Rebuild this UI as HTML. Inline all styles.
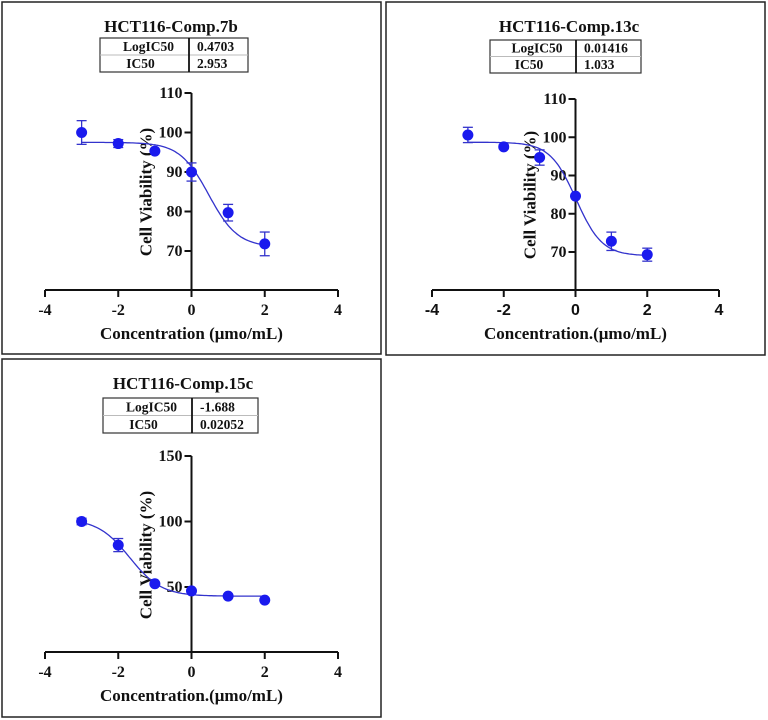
<!DOCTYPE html>
<html><head><meta charset="utf-8"><style>
html,body{margin:0;padding:0;background:#fff;width:768px;height:720px;overflow:hidden}
svg{display:block}
text{font-family:"Liberation Serif",serif;font-weight:bold;fill:#111}
</style></head><body>
<svg id="s" width="768" height="720" viewBox="0 0 768 720"></svg>
<script>
const xTicks=[-4,-2,0,2,4];
const p1Doses=[-3,-2,-1,0,1,2];
const p1Vals=[100,97.2,95.3,90,79.7,71.8];
const p1Err=[3,1,0,2.3,2.1,3];
const p1Fit=[97.5,71,0.4703,1.1];
const p1YTicks=[70,80,90,100,110];
const p2Doses=[-3,-2,-1,0,1,2];
const p2Vals=[100.6,97.5,94.7,84.6,72.8,69.3];
const p2Err=[2,0.5,2,0,2.4,1.7];
const p2Fit=[98.7,69,0.01416,1.2];
const p2YTicks=[70,80,90,100,110];
const p3Doses=[-3,-2,-1,0,1,2];
const p3Vals=[100,82,52.5,47,43,40];
const p3Err=[2.5,5,0,0,0,0];
const p3Fit=[102,43,-1.688,1.0];
const p3YTicks=[50,100,150];
const NS="http://www.w3.org/2000/svg";
const svg=document.getElementById('s');
function mk(tag,attrs,parent,txt){const e=document.createElementNS(NS,tag);for(const k in attrs)e.setAttribute(k,attrs[k]);if(txt!==undefined)e.textContent=txt;(parent||svg).appendChild(e);return e;}
function panel(cfg){
  const g=mk('g',{});
  
  
  const b=mk('rect',{x:cfg.box[0],y:cfg.box[1],width:cfg.box[2],height:cfg.box[3],fill:'none',stroke:'#222','stroke-width':1.5},g);
  
  
  const t=mk('text',{x:cfg.tx,y:cfg.ty,'text-anchor':'middle','font-size':17},g,cfg.title);
  
  
  const [tx0,ty0,tx1,ty1,td]=cfg.table;const tm=(ty0+ty1)/2;
  const tb=mk('g',{},g);
  
  
  mk('rect',{x:tx0,y:ty0,width:tx1-tx0,height:ty1-ty0,fill:'none',stroke:'#333','stroke-width':1.2},tb);
  mk('line',{x1:tx0,x2:tx1,y1:tm,y2:tm,stroke:'#bbb','stroke-width':1},tb);
  mk('line',{x1:td,x2:td,y1:ty0,y2:ty1,stroke:'#111','stroke-width':1.8},tb);
  mk('text',{x:(tx0+td)/2+4,y:tm-4,'text-anchor':'middle','font-size':13.5},tb,'LogIC50');
  mk('text',{x:(tx0+td)/2-4,y:ty1-4,'text-anchor':'middle','font-size':13.5},tb,'IC50');
  mk('text',{x:td+8,y:tm-4,'font-size':13.5},tb,cfg.vals[0]);
  mk('text',{x:td+8,y:ty1-4,'font-size':13.5},tb,cfg.vals[1]);
  const X=v=>cfg.x0+(v+4)/8*(cfg.x1-cfg.x0);
  const Y=v=>cfg.yb+(v-cfg.ymin)/(cfg.ymax-cfg.ymin)*(cfg.yt-cfg.yb);
  const ax=mk('g',{stroke:'#111','stroke-width':2},g);
  
  
  mk('line',{x1:X(-4),x2:X(4),y1:cfg.ax,y2:cfg.ax},ax);
  xTicks.forEach(v=>{
    mk('line',{x1:X(v),x2:X(v),y1:cfg.ax,y2:cfg.ax+7},ax);
    const l=mk('text',{x:X(v),y:cfg.ax+25,'text-anchor':'middle','font-size':16,stroke:'none',style:cfg.sansX?'font-family:"Liberation Sans",sans-serif':''},g,String(v));
    
    
  });
  const ay=mk('g',{stroke:'#111','stroke-width':2},g);
  
  
  mk('line',{x1:X(0),x2:X(0),y1:Y(cfg.ymax),y2:cfg.ax},ay);
  cfg.yt2.forEach(v=>{
    mk('line',{x1:X(0)-7,x2:X(0),y1:Y(v),y2:Y(v)},ay);
    const l=mk('text',{x:X(0)-9,y:Y(v)+5,'text-anchor':'end','font-size':16,stroke:'none'},g,v);
    
    
  });
  const yl=mk('text',{x:0,y:0,'text-anchor':'middle','font-size':17,transform:`translate(${X(0)-40},${cfg.ylab}) rotate(-90)`},g,'Cell Viability (%)');
  
  
  const xl=mk('text',{x:X(0),y:cfg.ax+49,'text-anchor':'middle','font-size':17},g,cfg.xlabel);
  
  
  const [top,bot,ic,h]=cfg.fit;let d='';
  for(let i=0;i<=100;i++){const xv=cfg.doses[0]+i/100*(cfg.doses[cfg.doses.length-1]-cfg.doses[0]);const yv=bot+(top-bot)/(1+Math.pow(10,(xv-ic)*h));d+=(i?'L':'M')+X(xv).toFixed(1)+','+Y(yv).toFixed(1);}
  const c=mk('path',{d:d,fill:'none',stroke:'#3333cc','stroke-width':1.3},g);
  
  
  cfg.doses.forEach((dv,i)=>{
    const v=cfg.v[i],e=cfg.e[i];
    if(e>0){
      const eb=mk('g',{stroke:'#3333cc','stroke-width':1.3},g);
      
      
      mk('line',{x1:X(dv),x2:X(dv),y1:Y(v-e),y2:Y(v+e)},eb);
      mk('line',{x1:X(dv)-5,x2:X(dv)+5,y1:Y(v-e),y2:Y(v-e)},eb);
      mk('line',{x1:X(dv)-5,x2:X(dv)+5,y1:Y(v+e),y2:Y(v+e)},eb);
    }
    const p=mk('circle',{cx:X(dv),cy:Y(v),r:5.5,fill:'#1a1aee'},g);
    
    
  });
}
panel({name:'panel-comp-7b',box:[2,2,379,352],title:'HCT116-Comp.7b',tx:171,ty:32,table:[100,38,248,72,189],vals:['0.4703','2.953'],x0:45,x1:338,ax:290,ymin:70,ymax:110,yb:251,yt:93,yt2:p1YTicks,ylab:192,xlabel:'Concentration (\u03bcmo/mL)',fit:p1Fit,doses:p1Doses,v:p1Vals,e:p1Err});
panel({name:'panel-comp-13c',box:[386,2,379,353],title:'HCT116-Comp.13c',tx:569,ty:32,table:[490,40,641,73,576],vals:['0.01416','1.033'],x0:432,x1:719,ax:290,ymin:70,ymax:110,yb:252,yt:99,yt2:p2YTicks,ylab:195,xlabel:'Concentration.(\u03bcmo/mL)',sansX:true,fit:p2Fit,doses:p2Doses,v:p2Vals,e:p2Err});
panel({name:'panel-comp-15c',box:[2,359,379,358],title:'HCT116-Comp.15c',tx:183,ty:389,table:[103,398,258,433,192],vals:['-1.688','0.02052'],x0:45,x1:338,ax:652,ymin:50,ymax:150,yb:587,yt:456,yt2:p3YTicks,ylab:555,xlabel:'Concentration.(\u03bcmo/mL)',fit:p3Fit,doses:p3Doses,v:p3Vals,e:p3Err});
</script>
</body></html>
